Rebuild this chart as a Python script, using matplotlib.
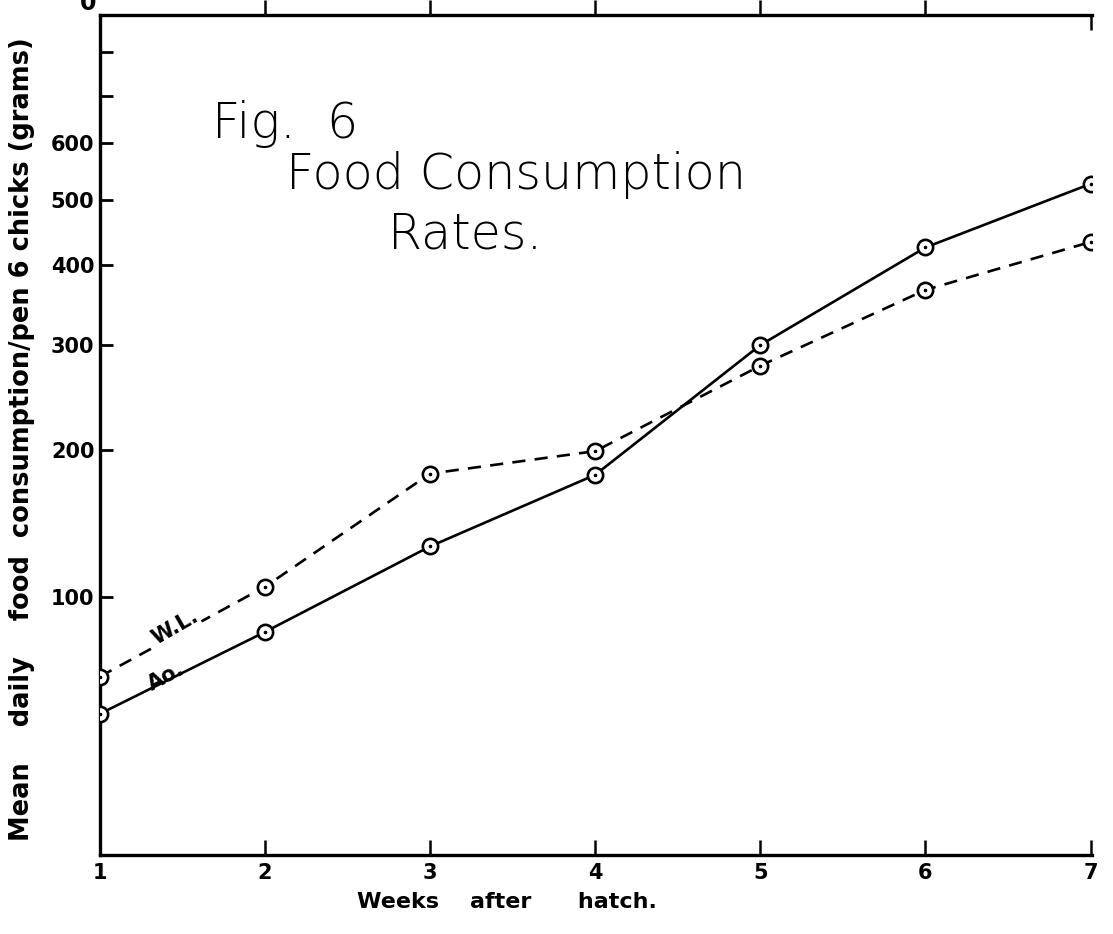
import numpy as np
import matplotlib
matplotlib.use("Agg")
from matplotlib import pyplot as plt

# data (weeks after hatch, grams)
weeks = [1, 2, 3, 4, 5, 6, 7]
ao_consumption = [58, 85, 127, 178, 300, 425, 526]
wl_consumption = [69, 105, 179, 199, 277, 366, 433]

y_ticks = [100, 200, 300, 400, 500, 600, 700, 800]
y_tick_labels = ["100", "200", "300", "400", "500", "600", "", ""]

# hand drawn log paper: calibration of value -> fraction of axis height
scale_values = np.array([30, 100, 200, 300, 400, 500, 600, 700, 800, 900])
scale_frac = np.array([0.0, 0.307, 0.482, 0.607, 0.702, 0.780, 0.848, 0.904, 0.956, 1.0])


def forward(v):
    v = np.clip(np.asarray(v, dtype=float), 1e-3, None)
    return np.interp(np.log10(v), np.log10(scale_values), scale_frac)


def inverse(f):
    return 10 ** np.interp(f, scale_frac, np.log10(scale_values))


plt.rcParams['font.family'] = ['DejaVu Sans']

fig = plt.figure(figsize=(11.13, 9.34), dpi=100)
ax = fig.add_axes([0.0898, 0.0846, 0.8915, 0.8994])

ax.set_yscale('function', functions=(forward, inverse))
ax.set_ylim(30, 900)
ax.set_xlim(1, 7.01)

# lines
ax.plot(weeks, ao_consumption, color='black', lw=1.9, ls='-', zorder=2)
ax.plot(weeks, wl_consumption, color='black', lw=1.9, ls=(0, (5, 3.5)), zorder=2)
for series in (ao_consumption, wl_consumption):
    ax.plot(weeks, series, ls='none', marker='o', ms=11, mfc='white',
            mec='black', mew=1.9, zorder=3)
    ax.plot(weeks, series, ls='none', marker='o', ms=1.6, color='black', zorder=4)

# frame
for side in ('left', 'bottom', 'top'):
    ax.spines[side].set_linewidth(2.4)
ax.spines['right'].set_visible(False)

ax.set_yticks(y_ticks)
ax.set_yticklabels(y_tick_labels)
ax.yaxis.set_minor_locator(matplotlib.ticker.NullLocator())
ax.tick_params(axis='y', direction='in', length=9, width=2, pad=4,
               labelsize=15)
for lab in ax.get_yticklabels():
    lab.set_fontweight('bold')

ax.set_xticks(weeks)
ax.set_xticklabels([str(w) for w in weeks])
ax.tick_params(axis='x', which='both', direction='in', length=11, width=1.8,
               labelsize=15, pad=6, top=True, labeltop=False)
for lab in ax.get_xticklabels():
    lab.set_fontweight('bold')
xticks = ax.xaxis.get_major_ticks()
xticks[0].tick1line.set_visible(False)
xticks[0].tick2line.set_visible(False)
for t in xticks[1:-1]:
    t.tick2line.set_marker(matplotlib.lines.TICKUP)
# the last top tick hooks down into the plot
xticks[-1].tick2line.set_marker(matplotlib.lines.TICKDOWN)

ax.set_xlabel("Weeks    after      hatch.", fontsize=16, fontweight='bold',
              labelpad=6, x=0.41)
fig.text(0.02, 0.10,
         "Mean    daily    food  consumption/pen 6 chicks (grams)",
         rotation=90, ha='center', va='bottom', fontsize=18.5,
         fontweight='bold')

# cropped label at top of the axis
ax.text(-0.012, 1.0, "0", transform=ax.transAxes, ha='center', va='bottom',
        fontsize=17, fontweight='bold')

# title written on the plot
title_font = dict(fontsize=35.5, fontweight='light',
                  ha='left', va='baseline', transform=ax.transAxes)
ax.text(0.113, 0.853, "Fig.  6", **title_font)
ax.text(0.188, 0.793, "Food Consumption", **title_font)
ax.text(0.290, 0.722, "Rates.", **title_font)

# series labels
ax.text(1.454, 87, "W.L.", rotation=30, fontsize=15, fontweight='bold',
        ha='center', va='center',
        bbox=dict(facecolor='white', edgecolor='none', pad=0.5))
ax.text(1.40, 69, "Ao.", rotation=28, fontsize=15, fontweight='bold',
        ha='center', va='center')

fig.savefig("out.png", dpi=100)
